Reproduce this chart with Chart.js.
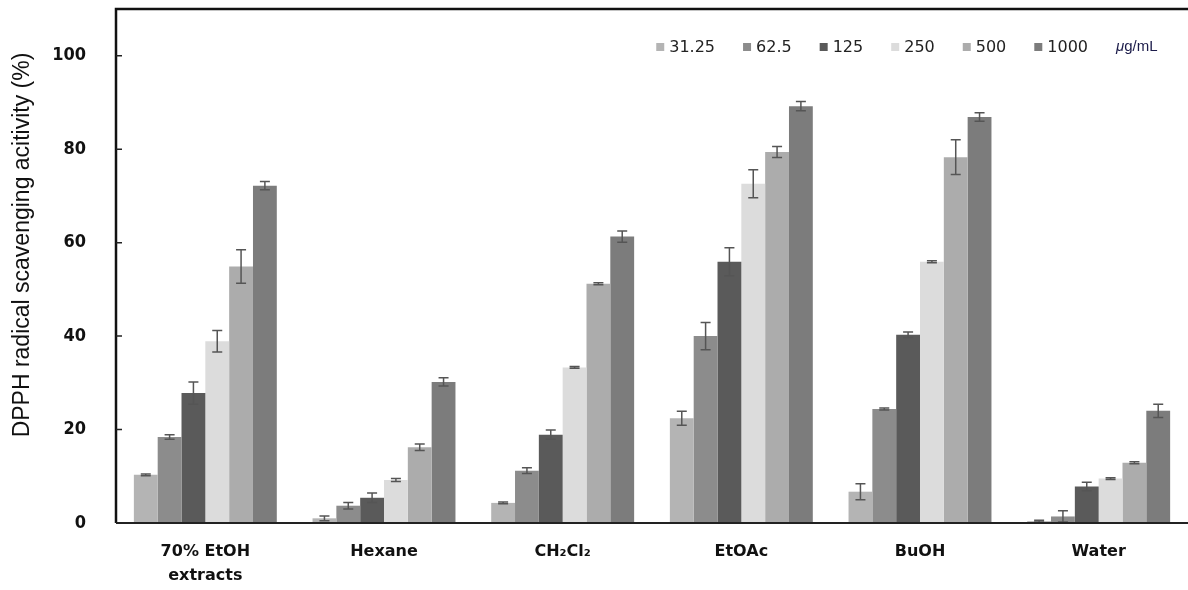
<!DOCTYPE html>
<html>
<head>
<meta charset="utf-8">
<script src="https://cdn.jsdelivr.net/npm/chart.js@4.4.1/dist/chart.umd.min.js"></script>
<style>
  html, body { margin: 0; padding: 0; background: #fff; }
  #wrap { width: 1188px; height: 590px; }
</style>
</head>
<body>
<div id="wrap"><canvas id="dpphChart"></canvas></div>
<script>
// categories (fractions)
const fractions = [['70% EtOH', 'extracts'], 'Hexane', 'CH\u2082Cl\u2082', 'EtOAc', 'BuOH', 'Water'];

// concentrations (µg/mL)
const concLabels = ['31.25', '62.5', '125', '250', '500', '1000'];
const concColors = ['#b4b4b4', '#8c8c8c', '#5a5a5a', '#dcdcdc', '#acacac', '#7c7c7c'];

// mean scavenging activity (%) per concentration, one value per fraction
const c31 = [10.3, 1.0, 4.3, 22.4, 6.7, 0.4];
const c62 = [18.4, 3.7, 11.2, 40.0, 24.4, 1.4];
const c125 = [27.8, 5.4, 18.9, 55.9, 40.3, 7.8];
const c250 = [38.9, 9.2, 33.3, 72.6, 55.9, 9.5];
const c500 = [54.9, 16.2, 51.2, 79.4, 78.3, 12.9];
const c1000 = [72.2, 30.2, 61.3, 89.2, 86.9, 24.0];

// standard deviations
const e31 = [0.2, 0.5, 0.2, 1.5, 1.7, 0.2];
const e62 = [0.5, 0.7, 0.6, 2.9, 0.2, 1.2];
const e125 = [2.4, 1.0, 1.0, 3.0, 0.6, 0.9];
const e250 = [2.3, 0.3, 0.2, 3.0, 0.2, 0.2];
const e500 = [3.6, 0.7, 0.2, 1.2, 3.7, 0.2];
const e1000 = [0.9, 0.9, 1.2, 1.0, 0.9, 1.4];

const yTicks = [0, 20, 40, 60, 80, 100];
const yTitle = 'DPPH radical scavenging acitivity (%)';

const means = [c31, c62, c125, c250, c500, c1000];
const errors = [e31, e62, e125, e250, e500, e1000];

const datasets = concLabels.map((lab, i) => ({
    label: lab,
    data: means[i],
    errors: errors[i],
    backgroundColor: concColors[i],
    borderWidth: 0,
    barPercentage: 1.0,
    categoryPercentage: 0.8
}));

// error bars, frame, inner ticks, axis title and legend
const extras = {
    id: 'extras',
    afterDatasetsDraw(chart) {
        const ctx = chart.ctx;
        const y = chart.scales.y;
        ctx.save();
        ctx.strokeStyle = '#555';
        ctx.lineWidth = 1.5;
        chart.data.datasets.forEach((ds, di) => {
            const meta = chart.getDatasetMeta(di);
            meta.data.forEach((bar, i) => {
                const v = ds.data[i], e = ds.errors[i];
                const top = y.getPixelForValue(v + e);
                const bot = y.getPixelForValue(Math.max(v - e, 0));
                ctx.beginPath();
                ctx.moveTo(bar.x, top); ctx.lineTo(bar.x, bot);
                ctx.moveTo(bar.x - 5, top); ctx.lineTo(bar.x + 5, top);
                ctx.moveTo(bar.x - 5, bot); ctx.lineTo(bar.x + 5, bot);
                ctx.stroke();
            });
        });
        ctx.restore();
    },
    afterDraw(chart) {
        const ctx = chart.ctx;
        const a = chart.chartArea;
        const y = chart.scales.y;
        ctx.save();
        // frame
        ctx.strokeStyle = '#111';
        ctx.lineWidth = 2.5;
        ctx.beginPath();
        ctx.moveTo(chart.width, a.top); ctx.lineTo(a.left, a.top); ctx.lineTo(a.left, a.bottom);
        ctx.stroke();
        ctx.strokeStyle = '#222';
        ctx.lineWidth = 2;
        ctx.beginPath();
        ctx.moveTo(a.left, a.bottom); ctx.lineTo(a.right, a.bottom);
        ctx.stroke();
        // inner tick marks
        ctx.lineWidth = 1.5;
        ctx.beginPath();
        yTicks.forEach(t => {
            const py = y.getPixelForValue(t);
            ctx.moveTo(a.left, py); ctx.lineTo(a.left + 6, py);
        });
        ctx.stroke();

        // y axis title
        ctx.save();
        ctx.translate(23, 245);
        ctx.rotate(-Math.PI / 2);
        ctx.fillStyle = '#111';
        ctx.font = '23px "Liberation Sans", sans-serif';
        ctx.textAlign = 'center';
        ctx.textBaseline = 'middle';
        ctx.fillText(yTitle, 0, 0);
        ctx.restore();

        // legend inside plot, top right
        const itemFont = '16px "DejaVu Sans", sans-serif';
        const unitFont = '15px "Liberation Sans", sans-serif';
        ctx.textBaseline = 'middle';
        ctx.font = itemFont;
        const ly = 47;
        const items = chart.data.datasets.map(ds => ({ text: ds.label, color: ds.backgroundColor, w: ctx.measureText(ds.label).width }));
        const box = 8, gapBox = 5, gapItem = 28;
        ctx.font = unitFont;
        const unitW = ctx.measureText('\u03bcg/mL').width;
        const total = items.reduce((s, it) => s + box + gapBox + it.w + gapItem, 0) + unitW;
        let x = 1158 - total;
        ctx.font = itemFont;
        items.forEach(it => {
            ctx.fillStyle = it.color;
            ctx.fillRect(x, ly - box / 2, box, box);
            x += box + gapBox;
            ctx.fillStyle = '#222';
            ctx.fillText(it.text, x, ly + 1);
            x += it.w + gapItem;
        });
        ctx.fillStyle = '#1c1c4a';
        ctx.font = 'italic ' + unitFont;
        ctx.fillText('\u03bc', x, ly);
        const mw = ctx.measureText('\u03bc').width;
        ctx.font = unitFont;
        ctx.fillText('g/mL', x + mw, ly);
        ctx.restore();
    }
};

new Chart(document.getElementById('dpphChart'), {
    type: 'bar',
    data: { labels: fractions, datasets: datasets },
    options: {
        responsive: true,
        maintainAspectRatio: false,
        animation: false,
        layout: { padding: { top: 9, right: 0, left: 0, bottom: 0 } },
        plugins: {
            legend: { display: false },
            tooltip: { enabled: false }
        },
        scales: {
            x: {
                grid: { display: false, drawTicks: false },
                border: { display: false },
                ticks: {
                    color: '#111',
                    padding: 16,
                    maxRotation: 0,
                    autoSkip: false,
                    font: { family: '"DejaVu Sans", sans-serif', size: 16, weight: 'bold', lineHeight: 1.55 }
                },
                afterFit(scale) { scale.height = 67; }
            },
            y: {
                min: 0,
                max: 110,
                afterBuildTicks(scale) { scale.ticks = yTicks.map(v => ({ value: v })); },
                grid: { display: false, drawTicks: false },
                border: { display: false },
                ticks: {
                    color: '#111',
                    padding: 30,
                    font: { family: '"Liberation Sans Narrow", "DejaVu Sans Condensed", sans-serif', size: 18, weight: 'bold' }
                },
                afterFit(scale) {
                    scale.width = 116;
                    scale.paddingTop = 0;
                    scale.paddingBottom = 0;
                }
            }
        }
    },
    plugins: [extras]
});
</script>
</body>
</html>
